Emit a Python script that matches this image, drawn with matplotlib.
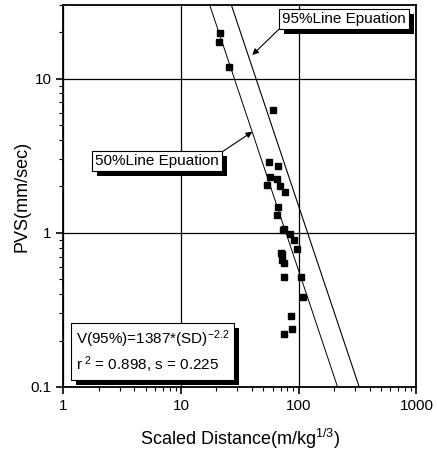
import numpy as np
import matplotlib
matplotlib.use("Agg")
import matplotlib.pyplot as plt
import matplotlib.patheffects as pe
from matplotlib.ticker import LogLocator, NullFormatter

plt.rcParams["font.family"] = ["Liberation Sans", "DejaVu Sans"]
plt.rcParams["mathtext.fontset"] = "custom"
plt.rcParams["mathtext.rm"] = "Liberation Sans"
plt.rcParams["mathtext.it"] = "Liberation Sans:italic"

# measured points (scaled distance, PVS)
sd = [21.4, 21.1, 25.7, 60.7, 55.4, 67.0, 56.9, 54.0, 65.7, 68.8, 76.8, 67.0, 65.3,
      75.3, 74.0, 83.6, 91.6, 97.2, 70.6, 71.5, 72.0, 74.8, 74.8, 105.0, 108.6,
      85.9, 87.5, 74.3]
pvs = [19.6, 17.3, 11.8, 6.28, 2.87, 2.71, 2.30, 2.04, 2.23, 2.02, 1.85, 1.47, 1.31,
       1.06, 1.04, 0.976, 0.896, 0.787, 0.734, 0.725, 0.665, 0.639, 0.513, 0.513, 0.385,
       0.288, 0.239, 0.221]

# regression lines V = K * SD^b (as drawn)
slope = -2.28
k95 = 53800.0
k50 = 20500.0

x_ticks = [1, 10, 100, 1000]
x_labels = ["1", "10", "100", "1000"]
y_ticks = [0.1, 1, 10]
y_labels = ["0.1", "1", "10"]

fig = plt.figure(figsize=(4.37, 4.51), dpi=100)
ax = fig.add_axes([0.145, 0.142, 0.808, 0.847])

xs = np.logspace(0, 3, 200)
ax.plot(xs, k95 * xs ** slope, color="black", lw=0.8)
ax.plot(xs, k50 * xs ** slope, color="black", lw=0.7)
ax.plot(sd, pvs, "s", color="black", markersize=4, zorder=5)

ax.set_xscale("log")
ax.set_yscale("log")
ax.set_xlim(1, 1000)
ax.set_ylim(0.1, 30)
ax.set_xticks(x_ticks)
ax.set_xticklabels(x_labels)
ax.set_yticks(y_ticks)
ax.set_yticklabels(y_labels)
ax.xaxis.set_minor_locator(LogLocator(base=10, subs=np.arange(2, 10)))
ax.yaxis.set_minor_locator(LogLocator(base=10, subs=np.arange(2, 10)))
ax.xaxis.set_minor_formatter(NullFormatter())
ax.yaxis.set_minor_formatter(NullFormatter())
ax.tick_params(which="major", direction="out", length=5, width=1.2, labelsize=11)
ax.tick_params(which="minor", direction="out", length=3, width=0.8)
ax.grid(True, which="major", color="black", lw=0.9)
for s in ax.spines.values():
    s.set_linewidth(1.3)

ax.set_xlabel("Scaled Distance(m/kg$^{1/3}$)", fontsize=13, labelpad=10)
ax.set_ylabel("PVS(mm/sec)", fontsize=13, labelpad=0)

shadow = [pe.SimplePatchShadow(offset=(3.5, -3.5), shadow_rgbFace="black", alpha=1.0),
          pe.Normal()]
box = dict(boxstyle="square,pad=0.2", fc="white", ec="black", lw=0.8)

t1 = ax.annotate("95%Line Epuation", xy=(0.535, 0.869), xycoords="axes fraction",
                 xytext=(0.795, 0.963), textcoords="axes fraction",
                 ha="center", va="center", fontsize=11, bbox=box, zorder=10,
                 arrowprops=dict(arrowstyle="-|>", color="black", lw=0.8,
                                 mutation_scale=9, relpos=(0, 0), shrinkA=0, shrinkB=0))
t1.get_bbox_patch().set_path_effects(shadow)

t2 = ax.annotate("50%Line Epuation", xy=(0.535, 0.668), xycoords="axes fraction",
                 xytext=(0.266, 0.592), textcoords="axes fraction",
                 ha="center", va="center", fontsize=11, bbox=box, zorder=10,
                 arrowprops=dict(arrowstyle="-|>", color="black", lw=0.8,
                                 mutation_scale=9, relpos=(1, 1), shrinkA=0, shrinkB=0))
t2.get_bbox_patch().set_path_effects(shadow)

t3 = ax.text(0.036, 0.092, "V(95%)=1387*(SD)$^{-2.2}$\nr$^{\\ 2}$ = 0.898, s = 0.225",
             transform=ax.transAxes, ha="left", va="center", fontsize=11,
             linespacing=1.3, bbox=dict(boxstyle="square,pad=0.3", fc="white",
                                        ec="black", lw=0.8), zorder=10)
t3.get_bbox_patch().set_path_effects(shadow)

fig.savefig("out.png", dpi=100)
